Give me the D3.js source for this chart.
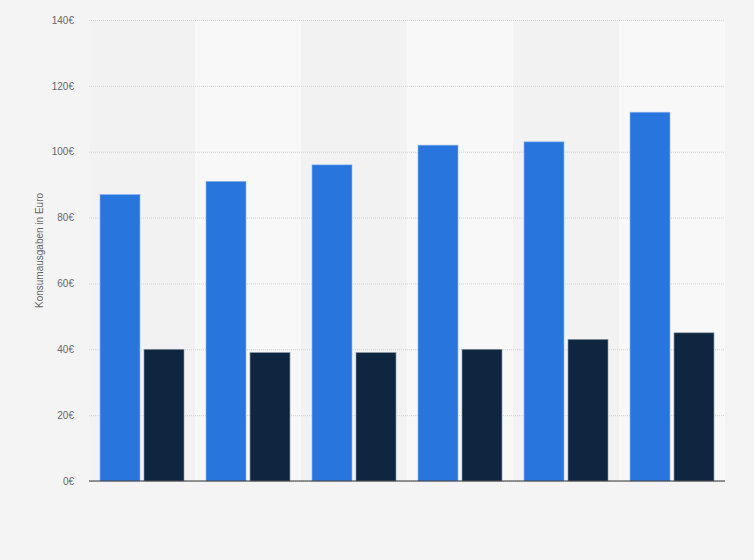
<!DOCTYPE html>
<html lang="de">
<head>
<meta charset="utf-8">
<title>Konsumausgaben in Euro</title>
<style>
  body { margin: 0; background: #f4f4f4; }
  svg { display: block; font-family: "Liberation Sans", Arial, sans-serif; }
</style>
</head>
<body>
<script src="https://d3js.org/d3.v7.min.js"></script>
<div id="chart"></div>
<script>
// categories have no visible labels in the picture
var categories = ["1", "2", "3", "4", "5", "6"];
var seriesNames = ["Serie A", "Serie B"];
var seriesA = [87, 91, 96, 102, 103, 112];
var seriesB = [40, 39, 39, 40, 43, 45];
var yTicks = [0, 20, 40, 60, 80, 100, 120, 140];
var colors = ["#2876dd", "#0f2640"];

var width = 754, height = 560;
var margin = {top: 20, right: 29, bottom: 79, left: 89};
var w = width - margin.left - margin.right,
    h = height - margin.top - margin.bottom;

var svg = d3.select("#chart").append("svg")
  .attr("width", width)
  .attr("height", height);

svg.append("rect").attr("width", width).attr("height", height).attr("fill", "#f4f4f4");

var g = svg.append("g").attr("transform", "translate(" + margin.left + "," + margin.top + ")");

var x0 = d3.scaleBand().domain(categories).range([0, w]);
var x1 = d3.scaleBand().domain(seriesNames).range([0, x0.bandwidth()])
  .paddingInner(0.0909).paddingOuter(0.25);
var y = d3.scaleLinear().domain([0, 140]).range([h, 0]);

// alternating column backgrounds
g.selectAll(".band")
  .data(categories)
  .enter().append("rect")
    .attr("x", function(d) { return x0(d); })
    .attr("y", 0)
    .attr("width", x0.bandwidth())
    .attr("height", h)
    .attr("fill", function(d, i) { return i % 2 ? "#f8f8f8" : "#f2f2f2"; });

// grid
var yAxis = g.append("g")
  .call(d3.axisLeft(y).tickValues(yTicks).tickSize(-w).tickFormat(function(d) { return d + "€"; }));
yAxis.select(".domain").remove();
yAxis.selectAll(".tick line")
  .attr("stroke", "#d4d4d4")
  .attr("stroke-dasharray", "1,1");
yAxis.selectAll(".tick text")
  .attr("x", -15)
  .attr("fill", "#666")
  .attr("font-size", "10px");

var rows = categories.map(function(c, i) {
  return {cat: c, values: [seriesA[i], seriesB[i]]};
});

var groups = g.selectAll(".grp")
  .data(rows)
  .enter().append("g")
    .attr("transform", function(d) { return "translate(" + x0(d.cat) + ",0)"; });

groups.selectAll("rect")
  .data(function(d) { return d.values.map(function(v, j) { return {s: seriesNames[j], v: v, j: j}; }); })
  .enter().append("rect")
    .attr("x", function(d) { return x1(d.s); })
    .attr("y", function(d) { return y(d.v); })
    .attr("width", x1.bandwidth())
    .attr("height", function(d) { return h - y(d.v); })
    .attr("fill", function(d) { return colors[d.j]; })
    .attr("stroke", function(d) { return d.j ? "#8a97a6" : "#8fb6ec"; })
    .attr("stroke-width", 0.6);

// baseline
g.append("line")
  .attr("x1", 0).attr("x2", w)
  .attr("y1", h).attr("y2", h)
  .attr("stroke", "#333")
  .attr("stroke-width", 1.2);

svg.append("text")
  .attr("transform", "translate(43," + (margin.top + h / 2) + ") rotate(-90)")
  .attr("text-anchor", "middle")
  .attr("fill", "#666")
  .attr("font-size", "10px")
  .text("Konsumausgaben in Euro");
</script>
</body>
</html>
